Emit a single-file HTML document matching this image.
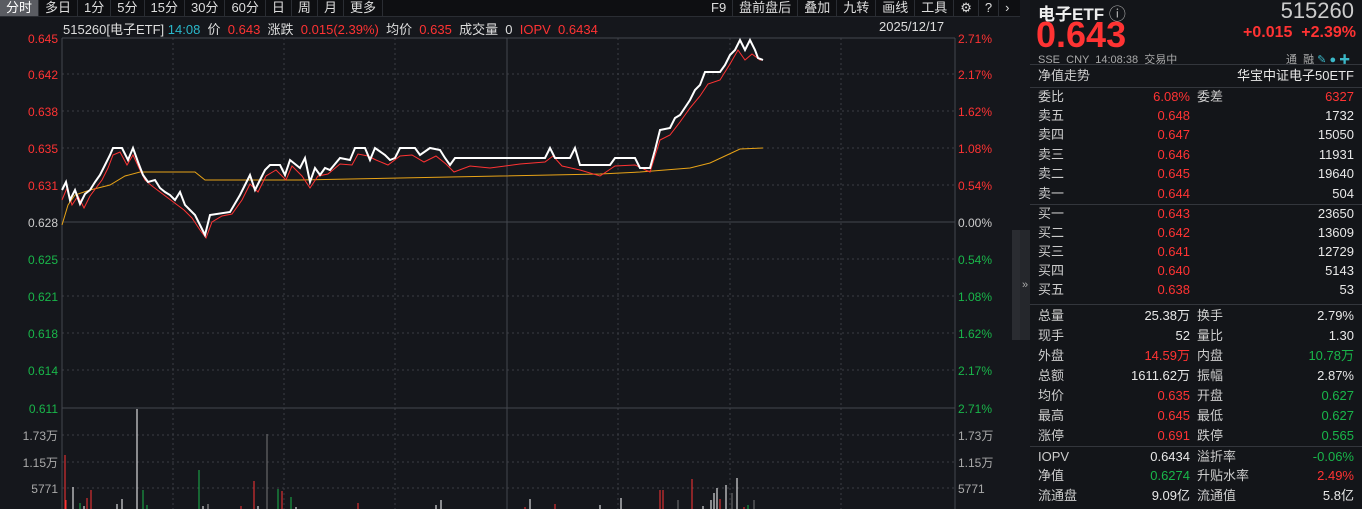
<!DOCTYPE html>
<html><head><meta charset="utf-8"><style>
body{margin:0;width:1362px;height:509px;overflow:hidden;background:#15171c;font-family:"Liberation Sans","Noto Sans CJK SC",sans-serif;position:relative;color:#ddd}
.a{position:absolute;white-space:nowrap}
.tb{top:0;height:16px;font-size:13px;line-height:16px;color:#ddd}
.tb span{display:inline-block;padding:0 6px;border-right:1px solid #2a2d33}
.r{color:#ff3333}.g{color:#19b64a}.w{color:#e8e8e8}.gr{color:#aaa}
.rp{position:absolute;left:1030px;width:332px;top:0;height:509px;background:#131519}
.row{position:absolute;left:8px;width:316px;height:20px;font-size:13px;line-height:20px}
.row .l1{position:absolute;left:0;color:#ccc}.row .v1{position:absolute;right:164px}
.row .l2{position:absolute;left:159px;color:#ccc}.row .v2{position:absolute;right:0}
.sep{position:absolute;left:0;width:332px;height:1px;background:#33363c}
</style></head><body>
<div class="a tb" style="left:0;width:1020px;background:#0e0f12;border-bottom:1px solid #2a2d33"><span style="background:#5a5c62;color:#fff">分时</span><span>多日</span><span>1分</span><span>5分</span><span>15分</span><span>30分</span><span>60分</span><span>日</span><span>周</span><span>月</span><span>更多</span></div>
<div class="a tb" style="left:705px"><span>F9</span><span>盘前盘后</span><span>叠加</span><span>九转</span><span>画线</span><span>工具</span><span>⚙</span><span>?</span><span style="border:none">›</span></div>
<div class="a" style="left:63px;top:19px;font-size:13px;color:#ddd">515260[电子ETF] <span style="color:#2ab7c9">14:08</span>&nbsp; 价 &nbsp;<span class="r">0.643</span>&nbsp; 涨跌 &nbsp;<span class="r">0.015(2.39%)</span>&nbsp; 均价 &nbsp;<span class="r">0.635</span>&nbsp; 成交量 &nbsp;0&nbsp; <span class="r">IOPV &nbsp;0.6434</span></div>
<div class="a" style="left:879px;top:19px;font-size:13px">2025/12/17</div>
<svg class="a" style="left:0;top:0" width="1020" height="509">
<g stroke="#3a3d44" stroke-dasharray="2,3" stroke-width="1">
<line x1="62" y1="74" x2="955" y2="74"/><line x1="62" y1="111" x2="955" y2="111"/><line x1="62" y1="148" x2="955" y2="148"/><line x1="62" y1="185" x2="955" y2="185"/><line x1="62" y1="259" x2="955" y2="259"/><line x1="62" y1="296" x2="955" y2="296"/><line x1="62" y1="333" x2="955" y2="333"/><line x1="62" y1="370" x2="955" y2="370"/>
<line x1="62" y1="435" x2="955" y2="435"/><line x1="62" y1="462" x2="955" y2="462"/><line x1="62" y1="488" x2="955" y2="488"/>
<line x1="173" y1="38" x2="173" y2="509"/><line x1="284" y1="38" x2="284" y2="509"/><line x1="395" y1="38" x2="395" y2="509"/><line x1="618" y1="38" x2="618" y2="509"/><line x1="730" y1="38" x2="730" y2="509"/><line x1="841" y1="38" x2="841" y2="509"/>
</g>
<g stroke="#44474e" stroke-width="1"><line x1="62" y1="38" x2="955" y2="38"/><line x1="62" y1="222" x2="955" y2="222"/><line x1="62" y1="408" x2="955" y2="408"/><line x1="507" y1="38" x2="507" y2="509"/><line x1="62" y1="38" x2="62" y2="509"/><line x1="955" y1="38" x2="955" y2="509"/></g>
<g font-size="12" text-anchor="end">
<text x="58" y="43" fill="#ff3333">0.645</text><text x="58" y="79" fill="#ff3333">0.642</text><text x="58" y="116" fill="#ff3333">0.638</text><text x="58" y="153" fill="#ff3333">0.635</text><text x="58" y="190" fill="#ff3333">0.631</text><text x="58" y="227" fill="#ccc">0.628</text><text x="58" y="264" fill="#19b64a">0.625</text><text x="58" y="301" fill="#19b64a">0.621</text><text x="58" y="338" fill="#19b64a">0.618</text><text x="58" y="375" fill="#19b64a">0.614</text><text x="58" y="413" fill="#19b64a">0.611</text>
<text x="58" y="440" fill="#aaa">1.73万</text><text x="58" y="467" fill="#aaa">1.15万</text><text x="58" y="493" fill="#aaa">5771</text></g>
<g font-size="12">
<text x="958" y="43" fill="#ff3333">2.71%</text><text x="958" y="79" fill="#ff3333">2.17%</text><text x="958" y="116" fill="#ff3333">1.62%</text><text x="958" y="153" fill="#ff3333">1.08%</text><text x="958" y="190" fill="#ff3333">0.54%</text><text x="958" y="227" fill="#ccc">0.00%</text><text x="958" y="264" fill="#19b64a">0.54%</text><text x="958" y="301" fill="#19b64a">1.08%</text><text x="958" y="338" fill="#19b64a">1.62%</text><text x="958" y="375" fill="#19b64a">2.17%</text><text x="958" y="413" fill="#19b64a">2.71%</text>
<text x="958" y="440" fill="#aaa">1.73万</text><text x="958" y="467" fill="#aaa">1.15万</text><text x="958" y="493" fill="#aaa">5771</text></g>
<polyline fill="none" stroke="#e8a317" stroke-width="1" points="62,225 68,205 75,195 90,190 110,185 125,176 140,172 195,172 205,180 300,180 400,178 500,176 600,174 640,172 690,168 710,163 725,156 740,149 763,148"/>
<polyline fill="none" stroke="#ff3333" stroke-width="1" points="62,200 67,188 72,205 78,196 84,208 90,196 96,188 102,180 108,168 113,155 120,152 127,165 133,155 139,168 145,180 152,186 160,192 168,198 176,204 184,210 192,218 200,230 206,238 212,222 222,216 232,214 242,200 250,184 258,192 266,176 276,170 286,180 292,166 302,176 310,188 318,176 328,174 340,164 352,165 358,154 368,156 376,160 388,165 400,156 412,155 424,162 436,156 446,164 454,172 470,166 490,168 520,164 545,162 553,156 562,166 580,170 600,176 615,166 635,165 650,172 660,140 670,135 680,122 690,108 700,96 708,84 720,80 730,64 738,50 745,60 752,54 760,60 763,60"/>
<polyline fill="none" stroke="#ffffff" stroke-width="2" points="62,190 66,182 70,200 75,190 80,204 85,194 90,190 95,182 100,175 105,165 110,155 113,148 122,148 128,160 133,148 138,162 143,175 148,182 155,180 160,188 165,192 170,195 175,200 180,192 185,205 190,210 195,215 200,225 205,235 210,215 230,212 240,195 245,185 250,175 255,190 260,180 265,170 270,165 280,165 285,175 290,160 300,168 305,158 310,182 315,168 320,175 325,168 330,170 340,158 350,160 355,148 365,148 370,160 375,148 385,155 390,160 395,158 400,148 415,148 420,155 430,148 440,150 445,158 450,165 455,158 545,158 550,148 555,158 570,158 575,148 580,165 610,165 615,158 635,158 640,168 650,168 655,150 660,130 670,128 675,118 680,115 690,100 695,90 700,85 705,72 720,72 725,65 730,55 735,50 740,40 745,50 750,40 755,50 758,58 763,60"/>
<g stroke-width="1">
<line x1="65" y1="455" x2="65" y2="509" stroke="#ff3333"/><line x1="66" y1="500" x2="66" y2="509" stroke="#ff3333"/>
<line x1="73" y1="487" x2="73" y2="509" stroke="#fff"/><line x1="80" y1="503" x2="80" y2="509" stroke="#19b64a"/><line x1="84" y1="506" x2="84" y2="509" stroke="#fff"/>
<line x1="87" y1="498" x2="87" y2="509" stroke="#ff3333"/><line x1="91" y1="490" x2="91" y2="509" stroke="#ff3333"/>
<line x1="117" y1="504" x2="117" y2="509" stroke="#fff"/><line x1="122" y1="499" x2="122" y2="509" stroke="#fff"/>
<line x1="137" y1="409" x2="137" y2="509" stroke="#fff"/><line x1="143" y1="490" x2="143" y2="509" stroke="#19b64a"/><line x1="147" y1="505" x2="147" y2="509" stroke="#19b64a"/>
<line x1="199" y1="470" x2="199" y2="509" stroke="#19b64a"/><line x1="203" y1="506" x2="203" y2="509" stroke="#fff"/><line x1="208" y1="504" x2="208" y2="509" stroke="#aaa"/>
<line x1="241" y1="506" x2="241" y2="509" stroke="#ff3333"/><line x1="254" y1="481" x2="254" y2="509" stroke="#ff3333"/><line x1="258" y1="506" x2="258" y2="509" stroke="#fff"/>
<line x1="267" y1="434" x2="267" y2="509" stroke="#777"/><line x1="278" y1="489" x2="278" y2="509" stroke="#19b64a"/><line x1="282" y1="491" x2="282" y2="509" stroke="#ff3333"/>
<line x1="291" y1="497" x2="291" y2="509" stroke="#19b64a"/><line x1="296" y1="507" x2="296" y2="509" stroke="#fff"/>
<line x1="358" y1="503" x2="358" y2="509" stroke="#ff3333"/><line x1="436" y1="505" x2="436" y2="509" stroke="#fff"/><line x1="441" y1="500" x2="441" y2="509" stroke="#fff"/>
<line x1="525" y1="507" x2="525" y2="509" stroke="#ff3333"/><line x1="530" y1="499" x2="530" y2="509" stroke="#fff"/><line x1="555" y1="504" x2="555" y2="509" stroke="#ff3333"/><line x1="600" y1="505" x2="600" y2="509" stroke="#fff"/><line x1="621" y1="498" x2="621" y2="509" stroke="#fff"/>
<line x1="660" y1="490" x2="660" y2="509" stroke="#ff3333"/><line x1="663" y1="490" x2="663" y2="509" stroke="#ff3333"/><line x1="678" y1="500" x2="678" y2="509" stroke="#777"/>
<line x1="692" y1="479" x2="692" y2="509" stroke="#ff3333"/><line x1="703" y1="506" x2="703" y2="509" stroke="#fff"/><line x1="711" y1="500" x2="711" y2="509" stroke="#fff"/><line x1="714" y1="493" x2="714" y2="509" stroke="#fff"/><line x1="717" y1="488" x2="717" y2="509" stroke="#fff"/><line x1="720" y1="499" x2="720" y2="509" stroke="#ff3333"/><line x1="726" y1="485" x2="726" y2="509" stroke="#fff"/><line x1="732" y1="493" x2="732" y2="509" stroke="#777"/><line x1="737" y1="478" x2="737" y2="509" stroke="#fff"/><line x1="744" y1="507" x2="744" y2="509" stroke="#ff3333"/><line x1="748" y1="505" x2="748" y2="509" stroke="#19b64a"/><line x1="754" y1="500" x2="754" y2="509" stroke="#777"/>
</g>
<rect x="1012" y="230" width="8" height="110" fill="#2a2c31"/>
</svg>
<div class="a" style="left:1020px;top:230px;width:10px;height:110px;background:#25272c;color:#aaa;font-size:11px;line-height:110px;text-align:center">»</div>
<div class="rp">
<div class="a" style="left:8px;top:0;font-size:17px;font-weight:bold;color:#eee">电子ETF <span style="font-weight:normal;color:#aaa">ⓘ</span></div>
<div class="a" style="right:8px;top:-2px;font-size:22px;color:#ccc">515260</div>
<div class="a r" style="left:6px;top:14px;font-size:36px;font-weight:bold">0.643</div>
<div class="a r" style="right:6px;top:24px;font-size:16px;font-weight:bold">+0.015 &nbsp;+2.39%</div>
<div class="a gr" style="left:8px;top:51px;font-size:11px">SSE &nbsp;CNY &nbsp;14:08:38 &nbsp;交易中</div>
<div class="a gr" style="left:256px;top:51px;font-size:11px">通 &nbsp;融 <span style="color:#3bb8c8">✎ ● ✚</span></div>
<div class="sep" style="top:64px"></div>
<div class="row" style="top:66px"><span class="l1">净值走势</span><span class="v2 w">华宝中证电子50ETF</span></div>
<div class="sep" style="top:87px"></div>
<div class="row" style="top:87px"><span class="l1">委比</span><span class="v1 r">6.08%</span><span class="l2">委差</span><span class="v2 r">6327</span></div>
<div class="row" style="top:106px"><span class="l1">卖五</span><span class="v1 r">0.648</span><span class="v2 w">1732</span></div>
<div class="row" style="top:125px"><span class="l1">卖四</span><span class="v1 r">0.647</span><span class="v2 w">15050</span></div>
<div class="row" style="top:145px"><span class="l1">卖三</span><span class="v1 r">0.646</span><span class="v2 w">11931</span></div>
<div class="row" style="top:164px"><span class="l1">卖二</span><span class="v1 r">0.645</span><span class="v2 w">19640</span></div>
<div class="row" style="top:184px"><span class="l1">卖一</span><span class="v1 r">0.644</span><span class="v2 w">504</span></div>
<div class="sep" style="top:204px"></div>
<div class="row" style="top:204px"><span class="l1">买一</span><span class="v1 r">0.643</span><span class="v2 w">23650</span></div>
<div class="row" style="top:223px"><span class="l1">买二</span><span class="v1 r">0.642</span><span class="v2 w">13609</span></div>
<div class="row" style="top:242px"><span class="l1">买三</span><span class="v1 r">0.641</span><span class="v2 w">12729</span></div>
<div class="row" style="top:261px"><span class="l1">买四</span><span class="v1 r">0.640</span><span class="v2 w">5143</span></div>
<div class="row" style="top:280px"><span class="l1">买五</span><span class="v1 r">0.638</span><span class="v2 w">53</span></div>
<div class="sep" style="top:304px"></div>
<div class="row" style="top:306px"><span class="l1">总量</span><span class="v1 w">25.38万</span><span class="l2">换手</span><span class="v2 w">2.79%</span></div>
<div class="row" style="top:326px"><span class="l1">现手</span><span class="v1 w">52</span><span class="l2">量比</span><span class="v2 w">1.30</span></div>
<div class="row" style="top:346px"><span class="l1">外盘</span><span class="v1 r">14.59万</span><span class="l2">内盘</span><span class="v2 g">10.78万</span></div>
<div class="row" style="top:366px"><span class="l1">总额</span><span class="v1 w">1611.62万</span><span class="l2">振幅</span><span class="v2 w">2.87%</span></div>
<div class="row" style="top:386px"><span class="l1">均价</span><span class="v1 r">0.635</span><span class="l2">开盘</span><span class="v2 g">0.627</span></div>
<div class="row" style="top:406px"><span class="l1">最高</span><span class="v1 r">0.645</span><span class="l2">最低</span><span class="v2 g">0.627</span></div>
<div class="row" style="top:426px"><span class="l1">涨停</span><span class="v1 r">0.691</span><span class="l2">跌停</span><span class="v2 g">0.565</span></div>
<div class="sep" style="top:446px"></div>
<div class="row" style="top:447px"><span class="l1">IOPV</span><span class="v1 w">0.6434</span><span class="l2">溢折率</span><span class="v2 g">-0.06%</span></div>
<div class="row" style="top:466px"><span class="l1">净值</span><span class="v1 g">0.6274</span><span class="l2">升贴水率</span><span class="v2 r">2.49%</span></div>
<div class="row" style="top:486px"><span class="l1">流通盘</span><span class="v1 w">9.09亿</span><span class="l2">流通值</span><span class="v2 w">5.8亿</span></div>
</div>
</body></html>
